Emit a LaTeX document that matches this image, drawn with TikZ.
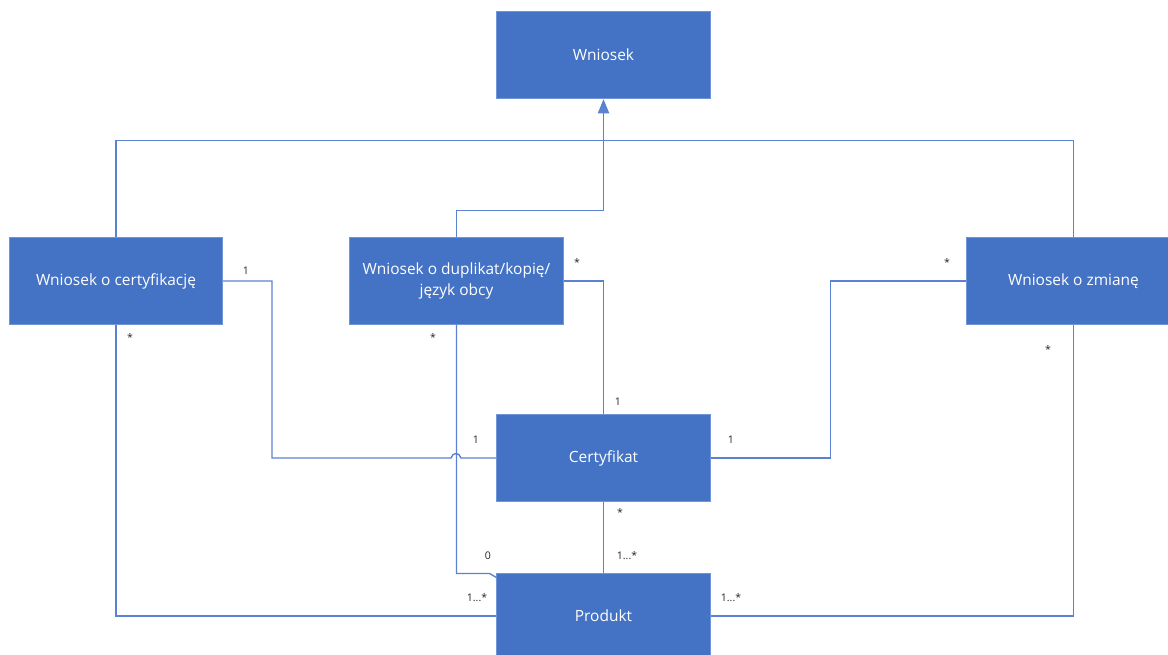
\documentclass[tikz,border=0pt]{standalone}
\usepackage{fontspec}
\setmainfont{Open Sans}
\usetikzlibrary{shapes,arrows.meta,positioning}

\definecolor{boxblue}{HTML}{4472C4}
\definecolor{boxedge}{HTML}{7095D8}
\definecolor{lineblue}{HTML}{5A82D0}

\tikzset{
  klasa/.style={rectangle, fill=boxblue, draw=boxedge, line width=0.7pt,
    minimum width=5.325cm, minimum height=2.15cm, text=white, align=center,
    font=\fontsize{11}{15.5}\selectfont, inner sep=2pt},
  assoc/.style={draw=lineblue, line width=1pt},
  krotn/.style={font=\fontsize{7.5}{8}\selectfont, text=black!85, inner sep=0pt},
}

\begin{document}
\begin{tikzpicture}[x=0.025cm, y=-0.025cm, >=Stealth]

                \useasboundingbox (0,0) rectangle (1168,655);
                \clip (0,0) rectangle (1168,655);

                % Klasy
                \node[klasa] (wn) at (603.5,55) {Wniosek};
                \node[klasa] (wcer) at (116,281) {Wniosek o certyfikację};
                \node[klasa] (wdup) at (456.5,281) {Wniosek o duplikat/kopię/\\język obcy};
                \node[klasa] (wzm) at (1073.5,281) {Wniosek o zmianę};
                \node[klasa] (cert) at (603.5,458) {Certyfikat};
                \node[klasa] (prod) at (603.5,616) {Produkt};

                % Dziedziczenie
                \draw[assoc] (wcer.north) -- ++(0,-97) -| (wzm.north);
                \draw[assoc, -{Triangle[length=10pt, width=8pt]}, shorten >=0.5pt]
                  (wdup.north) -- ++(0,-27) -| (wn.south);

                % Wniosek o certyfikacje -- Certyfikat
                \draw[assoc] (wcer.east) -- ++(49,0) |- (451,458)
                  .. controls (452.5,452) and (459.5,452) .. (461,458) -- (cert.west);
                \node[krotn] (m1) at (246,271) {1};
                \node[krotn] (m2) at (476,440) {1};

                % Wniosek o duplikat -- Certyfikat
                \draw[assoc] (wdup.east) -| (cert.north);
                \node[krotn] (m3) at (577,262) {*};
                \node[krotn] (m4) at (618,402) {1};

                % Wniosek o zmiane -- Certyfikat
                \draw[assoc] (wzm.west) -- ++(-136,0) |- (cert.east);
                \node[krotn] (m5) at (947,262) {*};
                \node[krotn] (m6) at (731,440) {1};

                % Wniosek o duplikat -- Produkt
                \draw[assoc] (wdup.south) -- ++(0,249) -- ++(33,0) -- ([yshift=-5*0.025cm]prod.north west);
                \node[krotn] (m7) at (433,337) {*};
                \node[krotn] (m8) at (488,556) {0};

                % Certyfikat -- Produkt
                \draw[assoc] (cert.south) -- (prod.north);
                \node[krotn] (m9) at (620,512) {*};
                \node[krotn] (m10) at (627,556) {1...*};

                % Wniosek o certyfikacje -- Produkt
                \draw[assoc] (wcer.south) |- (prod.west);
                \node[krotn] (m11) at (130,337) {*};
                \node[krotn] (m12) at (477,598) {1...*};

                % Wniosek o zmiane -- Produkt
                \draw[assoc] (wzm.south) |- (prod.east);
                \node[krotn] (m13) at (1048,349) {*};
                \node[krotn] (m14) at (731,598) {1...*};

\end{tikzpicture}
\end{document}
